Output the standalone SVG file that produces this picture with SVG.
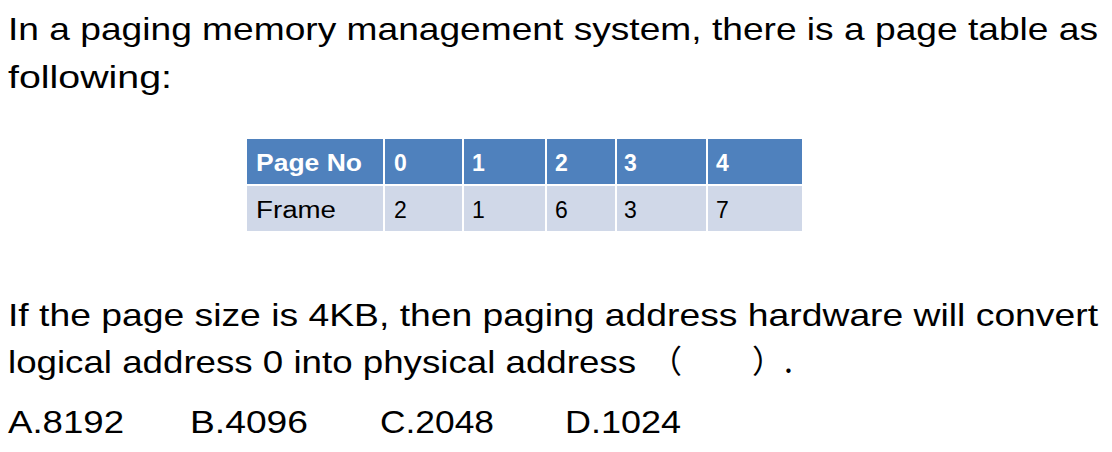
<svg xmlns="http://www.w3.org/2000/svg" width="1112" height="452" viewBox="0 0 1112 452">
<style>
.t{font-family:"Liberation Sans",Arial,sans-serif;font-size:32px;fill:#000}
.h{font-family:"Liberation Sans",Arial,sans-serif;font-size:23px;font-weight:bold;fill:#fff}
.c{font-family:"Liberation Sans",Arial,sans-serif;font-size:23px;fill:#000}
</style>
<rect width="1112" height="452" fill="#fff"/>
<text class="t" x="8" y="40" textLength="1090" lengthAdjust="spacingAndGlyphs">In a paging memory management system, there is a page table as</text>
<text class="t" x="8" y="88" textLength="164" lengthAdjust="spacingAndGlyphs">following:</text>
<g id="table">
<rect x="247" y="139" width="555" height="45" fill="#4f81bd"/>
<rect x="247" y="186" width="555" height="45" fill="#d0d8e8"/>
<g stroke="#fff" stroke-width="2">
<line x1="384" y1="139" x2="384" y2="231"/><line x1="463" y1="139" x2="463" y2="231"/>
<line x1="546" y1="139" x2="546" y2="231"/><line x1="616" y1="139" x2="616" y2="231"/>
<line x1="707" y1="139" x2="707" y2="231"/>
</g>
<text class="h" x="256" y="171" textLength="106" lengthAdjust="spacingAndGlyphs">Page No</text>
<text class="h" x="394" y="171">0</text><text class="h" x="472" y="171">1</text>
<text class="h" x="555" y="171">2</text><text class="h" x="624" y="171">3</text><text class="h" x="716" y="171">4</text>
<text class="c" x="256" y="218" textLength="80" lengthAdjust="spacingAndGlyphs">Frame</text>
<text class="c" x="394" y="218">2</text><text class="c" x="472" y="218">1</text>
<text class="c" x="555" y="218">6</text><text class="c" x="624" y="218">3</text><text class="c" x="716" y="218">7</text>
</g>
<text class="t" x="8" y="326" textLength="1090" lengthAdjust="spacingAndGlyphs">If the page size is 4KB, then paging address hardware will convert</text>
<text class="t" x="8" y="373" textLength="628" lengthAdjust="spacingAndGlyphs">logical address 0 into physical address</text>
<text class="t" x="650" y="373" style="font-family:'Noto Sans CJK SC',sans-serif">（</text>
<text class="t" x="752" y="373" style="font-family:'Noto Sans CJK SC',sans-serif">）.</text>
<text class="t" x="8" y="433" textLength="116" lengthAdjust="spacingAndGlyphs">A.8192</text>
<text class="t" x="190" y="433" textLength="118" lengthAdjust="spacingAndGlyphs">B.4096</text>
<text class="t" x="380" y="433" textLength="114" lengthAdjust="spacingAndGlyphs">C.2048</text>
<text class="t" x="565" y="433" textLength="116" lengthAdjust="spacingAndGlyphs">D.1024</text>
</svg>
